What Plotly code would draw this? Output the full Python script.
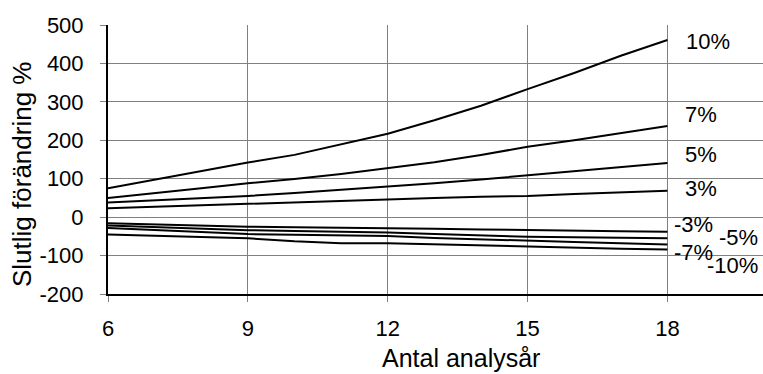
import plotly.graph_objects as go

years = [6, 7, 8, 9, 10, 11, 12, 13, 14, 15, 16, 17, 18]

series_names = ["10%", "7%", "5%", "3%", "-3%", "-5%", "-7%", "-10%"]
s_10 = [75, 97, 120, 142, 162, 190, 217, 252, 290, 333, 375, 420, 461]
s_7 = [50, 62, 75, 88, 99, 112, 127, 143, 162, 183, 200, 219, 237]
s_5 = [38, 44, 49, 55, 63, 71, 79, 88, 98, 109, 119, 130, 141]
s_3 = [23, 27, 31, 34, 38, 43, 47, 50, 53, 55, 60, 65, 69]
s_m3 = [-16, -19, -22, -25, -26, -27, -28, -30, -32, -34, -35, -37, -38]
s_m5 = [-22, -26, -30, -34, -36, -38, -40, -44, -48, -51, -52, -54, -55]
s_m7 = [-28, -33, -38, -44, -46, -48, -49, -54, -58, -62, -65, -68, -71]
s_m10 = [-45, -49, -52, -55, -63, -68, -68, -71, -74, -77, -80, -82, -84]
all_series = [s_10, s_7, s_5, s_3, s_m3, s_m5, s_m7, s_m10]

x_ticks = [6, 9, 12, 15, 18]
y_ticks = [-200, -100, 0, 100, 200, 300, 400, 500]

x_title = "Antal analysår"
y_title = "Slutlig förändring %"

# label offsets (pixels) relative to the last point of each series
label_shift = {
    "10%": (17, -2), "7%": (16, 12), "5%": (16, 8), "3%": (16, 2),
    "-3%": (5, 7), "-5%": (50, 1), "-7%": (5, -8), "-10%": (38, -16),
}

FONT = "Liberation Sans, Arial, sans-serif"

W, H = 763, 374
ML, MR, MT, MB = 108, 0, 25, 80
PW, PH = W - ML - MR, H - MT - MB


def px_to_paper(px, py):
    return (px - ML) / PW, (H - MB - py) / PH


fig = go.Figure()
for name, vals in zip(series_names, all_series):
    fig.add_trace(go.Scatter(x=years, y=vals, mode="lines", name=name,
                             line=dict(color="black", width=2),
                             showlegend=False))
    dx, dy = label_shift[name]
    fig.add_annotation(x=years[-1], y=vals[-1], text=name, showarrow=False,
                       xanchor="left", yanchor="middle", xshift=dx, yshift=dy,
                       font=dict(size=22, color="black", family=FONT))

# axis titles
tx, ty = px_to_paper(461, 358)
fig.add_annotation(xref="paper", yref="paper", x=tx, y=ty, text=x_title,
                   showarrow=False, xanchor="center", yanchor="middle",
                   font=dict(size=25, color="black", family=FONT))
tx, ty = px_to_paper(22, 175)
fig.add_annotation(xref="paper", yref="paper", x=tx, y=ty, text=y_title,
                   textangle=-90, showarrow=False, xanchor="center",
                   yanchor="middle",
                   font=dict(size=26, color="black", family=FONT))

fig.update_layout(
    width=W, height=H,
    margin=dict(l=ML, r=MR, t=MT, b=MB),
    paper_bgcolor="white", plot_bgcolor="white",
    font=dict(family=FONT, size=22, color="black"),
)
fig.update_xaxes(
    range=[6, 20.05], tickvals=x_ticks, ticktext=[str(v) for v in x_ticks],
    showgrid=True, gridcolor="#808080", gridwidth=1,
    showline=True, linecolor="black", linewidth=2,
    ticks="outside", ticklen=6, tickcolor="#808080",
    ticklabelstandoff=8,
    zeroline=False, automargin=False,
)
fig.update_yaxes(
    range=[-200, 500], tickvals=y_ticks, ticktext=[str(v) for v in y_ticks],
    showgrid=True, gridcolor="#808080", gridwidth=1,
    showline=True, linecolor="black", linewidth=2,
    ticks="outside", ticklen=6, tickcolor="#808080",
    ticklabelstandoff=12,
    zeroline=False, automargin=False,
)

fig.write_html("out.html")
